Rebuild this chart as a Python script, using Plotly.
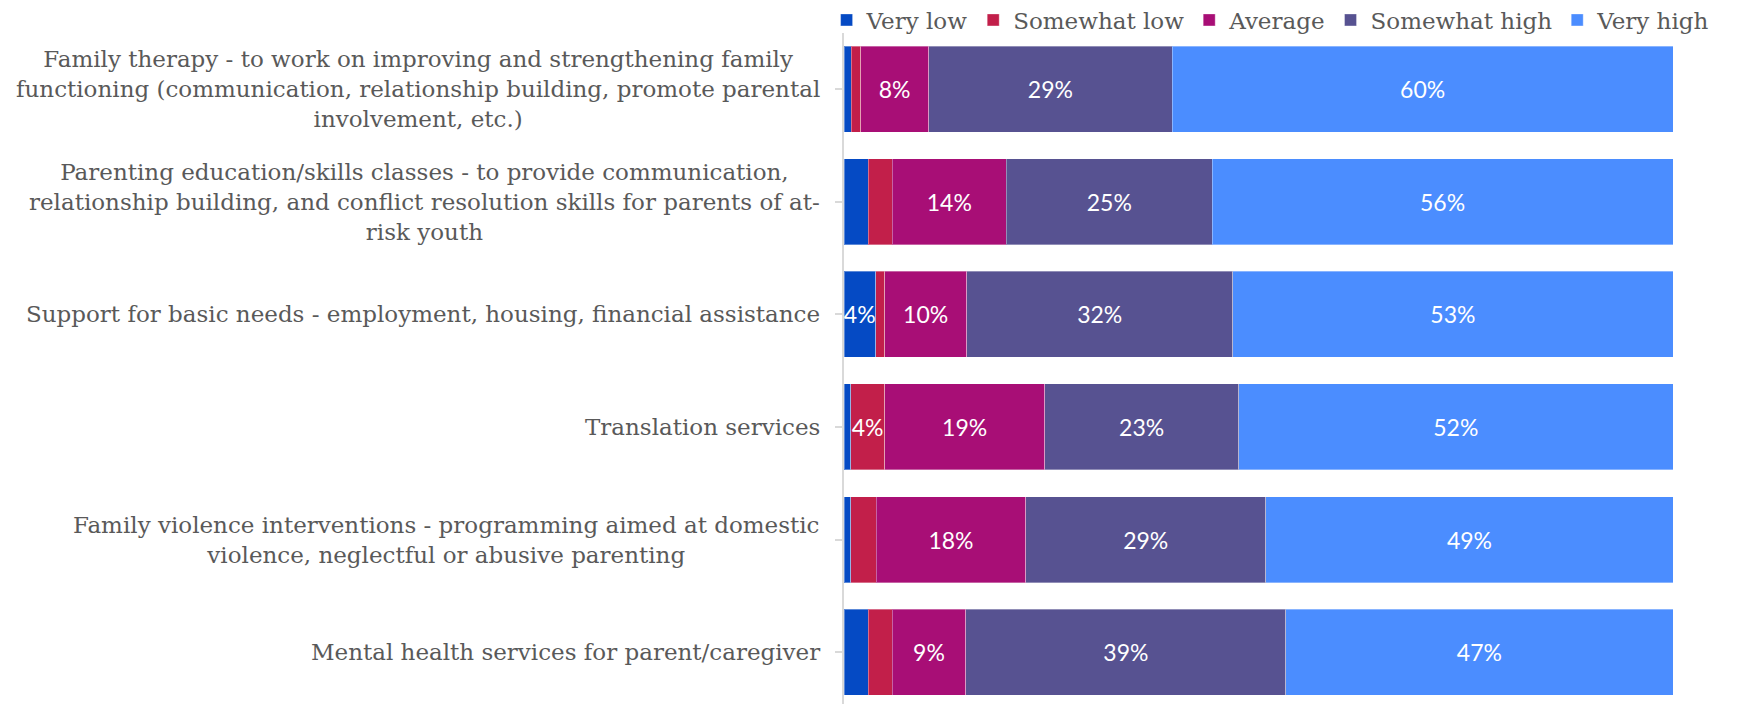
import plotly.graph_objects as go

# Services rated, top to bottom
categories = [
    "Family therapy - to work on improving and strengthening family<br>functioning (communication, relationship building, promote parental<br>involvement, etc.)",
    "Parenting education/skills classes - to provide communication,<br>relationship building, and conflict resolution skills for parents of at-<br>risk youth",
    "Support for basic needs - employment, housing, financial assistance",
    "Translation services",
    "Family violence interventions - programming aimed at domestic<br>violence, neglectful or abusive parenting",
    "Mental health services for parent/caregiver",
]

# Share of responses (%) per rating level
very_low = [0.9, 2.9, 3.8, 0.8, 0.8, 2.9]
somewhat_low = [1.1, 2.9, 1.1, 4.1, 3.1, 2.9]
average = [8.2, 13.8, 9.9, 19.3, 18.0, 8.9]
somewhat_high = [29.4, 24.8, 32.1, 23.4, 29.0, 38.6]
very_high = [60.4, 55.6, 53.1, 52.4, 49.1, 46.7]

series = [
    ("Very low", very_low, "#054ac4"),
    ("Somewhat low", somewhat_low, "#c21f4a"),
    ("Average", average, "#a80e76"),
    ("Somewhat high", somewhat_high, "#575291"),
    ("Very high", very_high, "#4b8dff"),
]

LABEL_FONT = "DejaVu Serif"
VALUE_FONT = "Lato"
GREY = "#595959"

fig = go.Figure()
for name, vals, color in series:
    # small slices stay unlabelled
    text = [f"{round(v)}%" if v >= 3.5 else "" for v in vals]
    fig.add_trace(go.Bar(
        name=name,
        y=list(range(len(categories))),
        x=vals,
        orientation="h",
        marker=dict(color=color, line=dict(color="rgba(255,255,255,0.35)", width=1)),
        text=text,
        texttemplate="%{text}",
        textposition="inside",
        insidetextanchor="middle",
        textangle=0,
        constraintext="none",
        textfont=dict(family=VALUE_FONT, size=23, color="white"),
        cliponaxis=False,
    ))

# category labels, centred line by line, to the left of the axis
for i, cat in enumerate(categories):
    fig.add_annotation(
        x=0, xref="paper", y=i, yref="y",
        text=cat, showarrow=False,
        xanchor="right", yanchor="middle", xshift=-22,
        align="center",
        font=dict(family=LABEL_FONT, size=23, color=GREY),
    )

fig.update_layout(
    width=1742, height=704,
    barmode="stack",
    bargap=0.236,
    plot_bgcolor="white",
    paper_bgcolor="white",
    margin=dict(l=844, r=69, t=33, b=0, pad=0, autoexpand=False),
    uniformtext=dict(mode="show", minsize=23),
    showlegend=True,
    legend=dict(
        orientation="h",
        x=-0.021, xanchor="left",
        y=1.0194, yanchor="middle",
        font=dict(family=LABEL_FONT, size=23, color=GREY),
        traceorder="normal",
        itemwidth=30,
        bgcolor="rgba(0,0,0,0)",
    ),
    xaxis=dict(
        range=[0, 100],
        showgrid=False, zeroline=False,
        showticklabels=False, ticks="",
        showline=False,
    ),
    yaxis=dict(
        range=[5.461, -0.5],
        tickmode="array",
        tickvals=list(range(len(categories))),
        ticktext=[""] * len(categories),
        tickson="boundaries",
        ticks="outside", ticklen=7, tickcolor="#d9d9d9", tickwidth=2,
        showline=True, linecolor="#d9d9d9", linewidth=2,
        showgrid=False, zeroline=False,
    ),
)

fig.write_html("out.html")
